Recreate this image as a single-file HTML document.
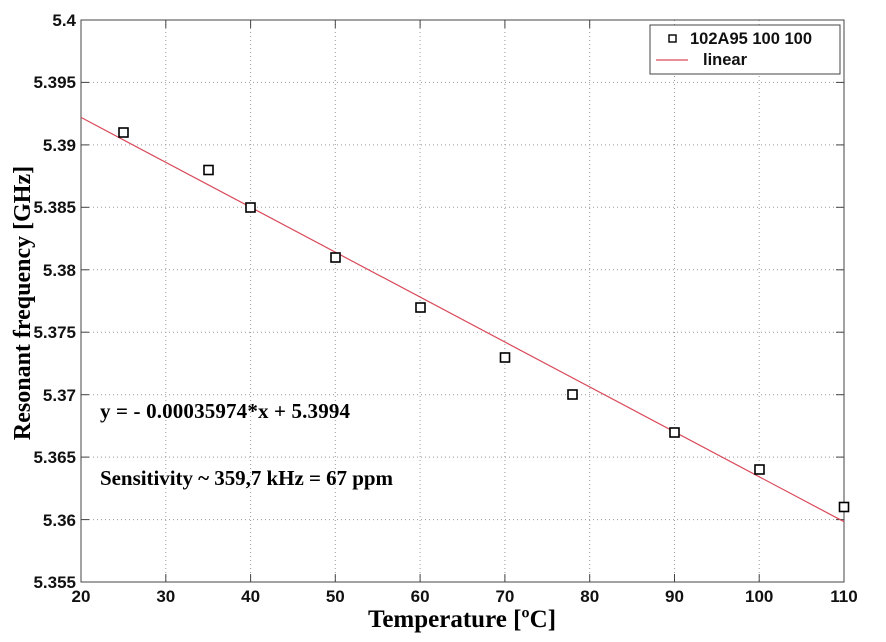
<!DOCTYPE html>
<html><head><meta charset="utf-8"><style>
body{margin:0;background:#fff}
</style></head><body>
<svg width="886" height="637" xmlns="http://www.w3.org/2000/svg">
<rect width="886" height="637" fill="#fff"/>
<g stroke="#999" stroke-width="1" stroke-dasharray="1,3">
<line x1="165.8" y1="20" x2="165.8" y2="582"/><line x1="250.6" y1="20" x2="250.6" y2="582"/>
<line x1="335.3" y1="20" x2="335.3" y2="582"/><line x1="420.1" y1="20" x2="420.1" y2="582"/>
<line x1="504.9" y1="20" x2="504.9" y2="582"/><line x1="589.7" y1="20" x2="589.7" y2="582"/>
<line x1="674.5" y1="20" x2="674.5" y2="582"/><line x1="759.2" y1="20" x2="759.2" y2="582"/>
<line x1="81" y1="82.4" x2="844" y2="82.4"/><line x1="81" y1="144.9" x2="844" y2="144.9"/>
<line x1="81" y1="207.3" x2="844" y2="207.3"/><line x1="81" y1="269.8" x2="844" y2="269.8"/>
<line x1="81" y1="332.2" x2="844" y2="332.2"/><line x1="81" y1="394.7" x2="844" y2="394.7"/>
<line x1="81" y1="457.1" x2="844" y2="457.1"/><line x1="81" y1="519.6" x2="844" y2="519.6"/>
</g>
<rect x="81" y="20" width="763" height="562" fill="none" stroke="#444" stroke-width="1"/>
<g stroke="#444">
<line x1="165.8" y1="582" x2="165.8" y2="574"/><line x1="250.6" y1="582" x2="250.6" y2="574"/><line x1="335.3" y1="582" x2="335.3" y2="574"/><line x1="420.1" y1="582" x2="420.1" y2="574"/><line x1="504.9" y1="582" x2="504.9" y2="574"/><line x1="589.7" y1="582" x2="589.7" y2="574"/><line x1="674.5" y1="582" x2="674.5" y2="574"/><line x1="759.2" y1="582" x2="759.2" y2="574"/>
<line x1="165.8" y1="20" x2="165.8" y2="28"/><line x1="250.6" y1="20" x2="250.6" y2="28"/><line x1="335.3" y1="20" x2="335.3" y2="28"/><line x1="420.1" y1="20" x2="420.1" y2="28"/><line x1="504.9" y1="20" x2="504.9" y2="28"/><line x1="589.7" y1="20" x2="589.7" y2="28"/>
<line x1="81" y1="82.4" x2="89" y2="82.4"/><line x1="81" y1="144.9" x2="89" y2="144.9"/><line x1="81" y1="207.3" x2="89" y2="207.3"/><line x1="81" y1="269.8" x2="89" y2="269.8"/><line x1="81" y1="332.2" x2="89" y2="332.2"/><line x1="81" y1="394.7" x2="89" y2="394.7"/><line x1="81" y1="457.1" x2="89" y2="457.1"/><line x1="81" y1="519.6" x2="89" y2="519.6"/>
<line x1="844" y1="82.4" x2="836" y2="82.4"/><line x1="844" y1="144.9" x2="836" y2="144.9"/><line x1="844" y1="207.3" x2="836" y2="207.3"/><line x1="844" y1="269.8" x2="836" y2="269.8"/><line x1="844" y1="332.2" x2="836" y2="332.2"/><line x1="844" y1="394.7" x2="836" y2="394.7"/><line x1="844" y1="457.1" x2="836" y2="457.1"/><line x1="844" y1="519.6" x2="836" y2="519.6"/>
</g>
<line x1="81" y1="117.4" x2="844" y2="521.7" stroke="#d94a5a" stroke-width="1.2"/>
<g fill="#fff" stroke="#000" stroke-width="1.6">
<rect x="119" y="128" width="9" height="9"/><rect x="204" y="165.5" width="9" height="9"/><rect x="246" y="203" width="9" height="9"/><rect x="331" y="253" width="9" height="9"/><rect x="416" y="303" width="9" height="9"/><rect x="500.5" y="353" width="9" height="9"/><rect x="568" y="390" width="9" height="9"/><rect x="670" y="428" width="9" height="9"/><rect x="755" y="465" width="9" height="9"/><rect x="839.5" y="502.5" width="9" height="9"/>
</g>
<g font-family="Liberation Sans, sans-serif" font-weight="bold" font-size="17" fill="#111" text-anchor="end">
<text x="76" y="26">5.4</text><text x="76" y="88">5.395</text><text x="76" y="151">5.39</text><text x="76" y="213">5.385</text><text x="76" y="276">5.38</text><text x="76" y="338">5.375</text><text x="76" y="401">5.37</text><text x="76" y="463">5.365</text><text x="76" y="526">5.36</text><text x="76" y="588">5.355</text>
</g>
<g font-family="Liberation Sans, sans-serif" font-weight="bold" font-size="17" fill="#111" text-anchor="middle">
<text x="81" y="602">20</text><text x="165.8" y="602">30</text><text x="250.6" y="602">40</text><text x="335.3" y="602">50</text><text x="420.1" y="602">60</text><text x="504.9" y="602">70</text><text x="589.7" y="602">80</text><text x="674.5" y="602">90</text><text x="759.2" y="602">100</text><text x="844" y="602">110</text>
</g>
<text x="462" y="627" font-family="Liberation Serif, serif" font-weight="bold" font-size="25" text-anchor="middle">Temperature [ºC]</text>
<text transform="translate(30,303) rotate(-90)" font-family="Liberation Serif, serif" font-weight="bold" font-size="24" text-anchor="middle">Resonant frequency [GHz]</text>
<text x="100" y="418" font-family="Liberation Serif, serif" font-weight="bold" font-size="21" textLength="250">y = - 0.00035974*x + 5.3994</text>
<text x="100" y="485" font-family="Liberation Serif, serif" font-weight="bold" font-size="21" textLength="293">Sensitivity ~ 359,7 kHz = 67 ppm</text>
<rect x="650" y="25" width="190" height="49" fill="#fff" stroke="#444"/>
<rect x="669" y="35" width="7" height="7" fill="none" stroke="#000" stroke-width="1.4"/>
<line x1="656" y1="60" x2="688" y2="60" stroke="#d94a5a" stroke-width="1.2"/>
<g font-family="Liberation Sans, sans-serif" font-weight="bold" font-size="16.5" fill="#111">
<text x="690" y="44">102A95 100 100</text><text x="703" y="65">linear</text>
</g>
</svg>
</body></html>
